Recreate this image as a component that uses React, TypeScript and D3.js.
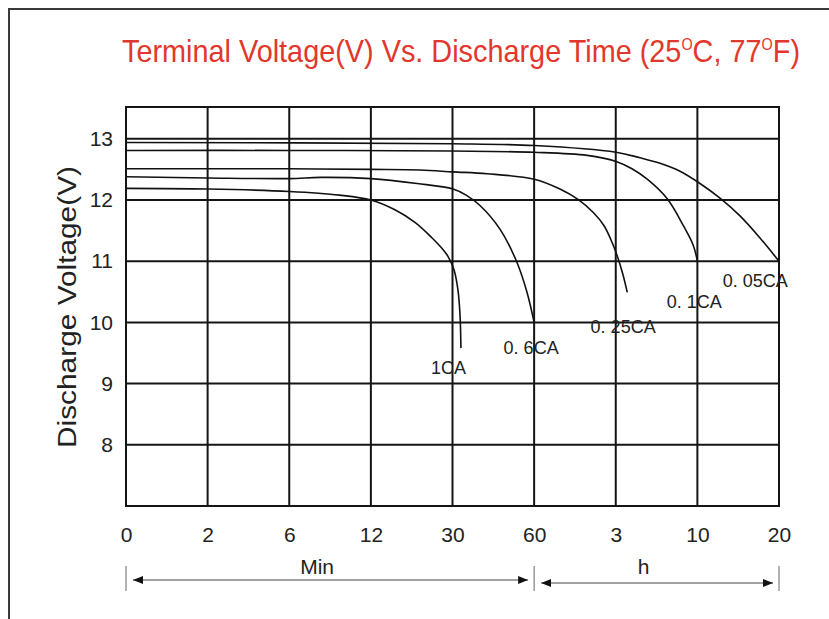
import React, { useEffect, useRef } from "react";
import * as d3 from "d3";

// time axis in minutes (0..60 min, then 3h, 10h, 20h)
const timeTicks = [0, 2, 6, 12, 30, 60, 180, 600, 1200];
const timeTickLabels = ["0", "2", "6", "12", "30", "60", "3", "10", "20"];
const voltTicks = [8, 9, 10, 11, 12, 13];

const rateLabels = ["1CA", "0. 6CA", "0. 25CA", "0. 1CA", "0. 05CA"];

// [minutes, volts]
const curve1CA: [number, number][] = [
    [0, 12.19], [2, 12.18], [6, 12.14], [9.7, 12.08], [12, 12.0], [17.3, 11.84],
    [21.8, 11.63], [25.5, 11.38], [27.2, 11.25], [29.0, 11.08], [30.55, 10.86],
    [32.0, 10.53], [32.76, 10.12], [33.1, 9.58],
];
const curve06CA: [number, number][] = [
    [0, 12.38], [2, 12.36], [6, 12.35], [8.3, 12.37], [12, 12.35], [22.2, 12.27],
    [30.2, 12.18], [35, 12.08], [40.1, 11.91], [47.5, 11.52], [53.7, 10.98],
    [57.4, 10.49], [60, 10.0],
];
const curve025CA: [number, number][] = [
    [0, 12.51], [2, 12.51], [6, 12.51], [12, 12.5], [22.9, 12.49], [30.2, 12.46],
    [42.7, 12.43], [60, 12.34], [98, 12.18], [124.5, 12.01], [146.6, 11.8],
    [162.8, 11.58], [174.5, 11.31], [191.6, 11.05], [217.3, 10.78], [239.4, 10.49],
];
const curve01CA: [number, number][] = [
    [0, 12.81], [6, 12.81], [30, 12.8], [60, 12.78], [138, 12.73], [182, 12.63],
    [263.6, 12.51], [342, 12.34], [445, 12.02], [528, 11.58], [580, 11.25],
    [600, 11.0],
];
const curve005CA: [number, number][] = [
    [0, 12.94], [30, 12.92], [60, 12.89], [182, 12.78], [304.8, 12.69],
    [407.7, 12.6], [510.6, 12.47], [619.3, 12.27], [766.3, 12.03], [913.3, 11.74],
    [1060.3, 11.38], [1200, 11.0],
];
const curves = [curve1CA, curve06CA, curve025CA, curve01CA, curve005CA];

// label centres, [minutes, volts]
const labelSpots: [number, number][] = [
    [29.1, 9.26], [58.9, 9.59], [218, 9.92], [583.5, 10.33], [1025, 10.67],
];

export default function App() {
    const svgRef = useRef<SVGSVGElement | null>(null);
    const width = 829;
    const height = 619;
    const left = 126;
    const right = 779;
    const top = 107;
    const bottom = 506;

    useEffect(() => {
        if (!svgRef.current) return;
        const svg = d3.select(svgRef.current);
        svg.selectAll("*").remove();
        const font = "'Liberation Sans', Arial, sans-serif";

        const step = (right - left) / (timeTicks.length - 1);
        const x = d3
            .scaleLinear()
            .domain(timeTicks)
            .range(timeTicks.map((_, i) => left + i * step));
        const y = d3.scaleLinear().domain([7, 13.52]).range([bottom, top]);

        // outer frame
        svg.append("rect")
            .attr("x", 9)
            .attr("y", 9)
            .attr("width", width)
            .attr("height", height)
            .attr("fill", "none")
            .attr("stroke", "#3a3a3a")
            .attr("stroke-width", 2);

        // title
        const title = svg
            .append("text")
            .attr("x", 122)
            .attr("y", 62)
            .attr("fill", "#e1372c")
            .attr("font-size", 32)
            .attr("font-family", font)
            .attr("textLength", 678)
            .attr("lengthAdjust", "spacingAndGlyphs");
        title.append("tspan").text("Terminal Voltage(V) Vs. Discharge Time (25");
        title.append("tspan").attr("font-size", 16).attr("dy", -12).text("O");
        title.append("tspan").attr("dy", 12).text("C, 77");
        title.append("tspan").attr("font-size", 16).attr("dy", -12).text("O");
        title.append("tspan").attr("dy", 12).text("F)");

        // grid
        const grid = svg.append("g").attr("stroke", "#151515").attr("stroke-width", 2);
        grid.selectAll(".v")
            .data(timeTicks)
            .join("line")
            .attr("class", "v")
            .attr("x1", (d) => x(d))
            .attr("x2", (d) => x(d))
            .attr("y1", top)
            .attr("y2", bottom);
        grid.selectAll(".h")
            .data(voltTicks)
            .join("line")
            .attr("class", "h")
            .attr("x1", left)
            .attr("x2", right)
            .attr("y1", (d) => y(d))
            .attr("y2", (d) => y(d));
        grid.append("rect")
            .attr("x", left)
            .attr("y", top)
            .attr("width", right - left)
            .attr("height", bottom - top)
            .attr("fill", "none");

        // axes
        const xAxis = svg
            .append("g")
            .attr("transform", `translate(0,${bottom})`)
            .call(
                d3
                    .axisBottom(x)
                    .tickValues(timeTicks)
                    .tickFormat((_, i) => timeTickLabels[i])
                    .tickSize(0)
                    .tickPadding(21)
            );
        xAxis.select(".domain").remove();
        xAxis.selectAll("text")
            .attr("font-size", 21)
            .attr("font-family", font)
            .attr("fill", "#222");

        const yAxis = svg
            .append("g")
            .attr("transform", `translate(${left},0)`)
            .call(
                d3
                    .axisLeft(y)
                    .tickValues(voltTicks)
                    .tickFormat(d3.format("d"))
                    .tickSize(0)
                    .tickPadding(13)
            );
        yAxis.select(".domain").remove();
        yAxis.selectAll("text")
            .attr("font-size", 21)
            .attr("font-family", font)
            .attr("fill", "#222");

        svg.append("text")
            .attr("transform", `translate(76,307) rotate(-90)`)
            .attr("text-anchor", "middle")
            .attr("font-size", 26)
            .attr("font-family", font)
            .attr("fill", "#222")
            .attr("textLength", 282)
            .attr("lengthAdjust", "spacingAndGlyphs")
            .text("Discharge Voltage(V)");

        // discharge curves
        const line = d3
            .line<[number, number]>()
            .x((d) => x(d[0]))
            .y((d) => y(d[1]))
            .curve(d3.curveCatmullRom.alpha(0.5));
        svg.append("g")
            .selectAll("path")
            .data(curves)
            .join("path")
            .attr("d", (d) => line(d))
            .attr("fill", "none")
            .attr("stroke", "#111")
            .attr("stroke-width", 1.6);

        svg.append("g")
            .selectAll("text")
            .data(labelSpots)
            .join("text")
            .attr("x", (d) => x(d[0]))
            .attr("y", (d) => y(d[1]))
            .attr("text-anchor", "middle")
            .attr("dominant-baseline", "central")
            .attr("font-size", 18)
            .attr("font-family", font)
            .attr("fill", "#222")
            .text((_, i) => rateLabels[i]);

        // Min / h range arrows
        const defs = svg.append("defs");
        ["start", "end"].forEach((k) => {
            defs.append("marker")
                .attr("id", `arrow-${k}`)
                .attr("viewBox", "0 0 10 8")
                .attr("refX", k === "end" ? 10 : 0)
                .attr("refY", 4)
                .attr("markerWidth", 10)
                .attr("markerHeight", 8)
                .attr("markerUnits", "userSpaceOnUse")
                .attr("orient", "auto")
                .append("path")
                .attr("d", k === "end" ? "M0,0L10,4L0,8Z" : "M10,0L0,4L10,8Z")
                .attr("fill", "#111");
        });

        const ranges = [
            { from: 0, to: 60, y: 580, label: "Min", shift: -13 },
            { from: 60, to: 1200, y: 583, label: "h", shift: -13 },
        ];
        const arrows = svg.append("g");
        [0, 60, 1200].forEach((t) => {
            arrows.append("line")
                .attr("x1", x(t))
                .attr("x2", x(t))
                .attr("y1", 566)
                .attr("y2", 591)
                .attr("stroke", "#666")
                .attr("stroke-width", 1);
        });
        ranges.forEach((r) => {
            arrows.append("line")
                .attr("x1", x(r.from) + 7)
                .attr("x2", x(r.to) - 6)
                .attr("y1", r.y)
                .attr("y2", r.y)
                .attr("stroke", "#444")
                .attr("stroke-width", 1)
                .attr("marker-start", "url(#arrow-start)")
                .attr("marker-end", "url(#arrow-end)");
            arrows.append("text")
                .attr("x", (x(r.from) + x(r.to)) / 2 + r.shift)
                .attr("y", 574)
                .attr("text-anchor", "middle")
                .attr("font-size", 21)
                .attr("font-family", font)
                .attr("fill", "#222")
                .text(r.label);
        });
    }, []);

    return (
        <div style={{ position: "absolute", left: 0, top: 0, width, height, background: "#fff" }}>
            <svg ref={svgRef} width={width} height={height}></svg>
        </div>
    );
}
